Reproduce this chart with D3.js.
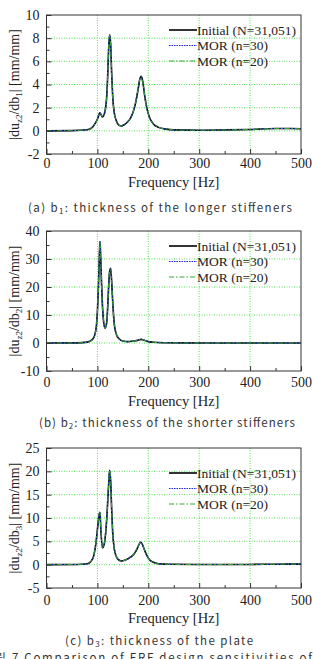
<!DOCTYPE html>
<html><head><meta charset="utf-8">
<script src="https://cdn.jsdelivr.net/npm/d3@7"></script>
<style>
html,body{margin:0;padding:0;background:#fff;}
svg{display:block;}
</style></head>
<body>
<svg id="c" width="313" height="659"></svg>
<script>
// ---------- data ----------
const seriesNames = ["Initial (N=31,051)", "MOR (n=30)", "MOR (n=20)"];
const xTicks = [0, 100, 200, 300, 400, 500];

const freqA = [0,50,80,90,95,100,105,110,115,118,120,122,124,126,128,130,133,137,142,147,152,160,165,170,175,180,183,186,188,190,193,197,202,210,220,235,250,300,350,400,450,480,500];
const initialA = [0,0.02,0.1,0.3,0.6,1.0,1.55,1.2,1.7,2.8,4.5,7.0,8.3,7.5,5.0,3.0,1.6,0.9,0.5,0.42,0.5,0.8,1.1,1.6,2.4,3.6,4.4,4.7,4.5,4.0,3.0,2.0,1.2,0.6,0.3,0.15,0.08,0.05,0.08,0.12,0.2,0.2,0.18];
const mor30A = initialA; // reduced models coincide with the initial curve
const mor20A = initialA;
const yTicksA = [-2, 0, 2, 4, 6, 8, 10];

const freqB = [0,60,80,90,95,98,100,102,104,105,106,108,110,112,115,118,120,122,124,126,128,130,133,137,142,150,160,170,180,186,192,200,210,230,300,500];
const initialB = [0,0.05,0.3,1.2,3,6,11,20,32,36.2,33,22,13,8,5.3,7,12,20,25.5,26.7,22,15,7,3.2,1.6,0.7,0.5,0.7,1.0,1.3,1.0,0.5,0.25,0.1,0.02,0.02];
const mor30B = initialB;
const mor20B = initialB;
const yTicksB = [-10, 0, 10, 20, 30, 40];

const freqC = [0,60,80,88,93,97,100,103,105,107,110,113,116,119,122,124,126,128,130,133,137,142,147,155,165,172,178,182,185,188,192,197,203,210,220,240,300,400,450,500];
const initialC = [0,0.03,0.2,0.8,2,4.5,7.5,10.5,11.2,7,3.6,4.2,6.5,11,17,20.2,18,12,7,3.5,1.8,1.0,0.8,1.0,1.6,2.3,3.4,4.4,4.8,4.4,3.3,2.0,1.0,0.5,0.2,0.08,0.03,0.05,0.1,0.12];
const mor30C = initialC;
const mor20C = initialC;
const yTicksC = [-5, 0, 5, 10, 15, 20, 25];

// ---------- layout ----------
const svg = d3.select("#c");
const serif = "'Liberation Serif','Times New Roman',serif";
const gothic = "'Noto Sans CJK KR','Noto Sans',sans-serif";

const panels = [
  {freq: freqA, series: [initialA, mor30A, mor20A], yTicks: yTicksA, sub: "1",
   top: 15, bottom: 154, legTop: 30, tickBase: 168, xlabBase: 187, capBase: 212,
   cap: ["(a) b", "1", ": thickness of the longer stiffeners"], capX: [28, 292]},
  {freq: freqB, series: [initialB, mor30B, mor20B], yTicks: yTicksB, sub: "2",
   top: 231, bottom: 371, legTop: 246, tickBase: 387, xlabBase: 406, capBase: 427,
   cap: ["(b) b", "2", ": thickness of the shorter stiffeners"], capX: [39, 295]},
  {freq: freqC, series: [initialC, mor30C, mor20C], yTicks: yTicksC, sub: "3",
   top: 448, bottom: 588, legTop: 473, tickBase: 605, xlabBase: 623, capBase: 645,
   cap: ["(c) b", "3", ": thickness of the plate"], capX: [65, 253]}
];

const left = 46.5, right = 301;
const styles = [
  {stroke: "#000", width: 1.6, dash: null},
  {stroke: "#2222dd", width: 1, dash: "1.5,1"},
  {stroke: "#33aa33", width: 1, dash: "5,2,1.5,2"}
];

panels.forEach(p => {
  const yMin = p.yTicks[0], yMax = p.yTicks[p.yTicks.length - 1];
  const x = d3.scaleLinear().domain([0, 500]).range([left, right]);
  const y = d3.scaleLinear().domain([yMin, yMax]).range([p.bottom, p.top]);
  const g = svg.append("g");
  const step = p.yTicks[1] - p.yTicks[0];

  // grid
  xTicks.slice(1, -1).forEach(t => {
    g.append("line").attr("x1", x(t)).attr("x2", x(t)).attr("y1", p.top).attr("y2", p.bottom)
      .attr("stroke", "#55e055").attr("stroke-width", 1).attr("stroke-dasharray", "1,1.5");
  });
  p.yTicks.slice(1, -1).forEach(t => {
    g.append("line").attr("x1", left).attr("x2", right).attr("y1", y(t)).attr("y2", y(t))
      .attr("stroke", "#55e055").attr("stroke-width", 1).attr("stroke-dasharray", "1,1.5");
  });

  // curves
  const line = d3.line().x((d, i) => x(p.freq[i])).y(d => y(d)).curve(d3.curveMonotoneX);
  p.series.forEach((s, k) => {
    const st = styles[k];
    g.append("path").attr("d", line(s)).attr("fill", "none")
      .attr("stroke", st.stroke).attr("stroke-width", st.width)
      .attr("stroke-dasharray", st.dash).attr("stroke-linejoin", "round");
  });

  // axes
  const fmt = d => String(d);
  const xAxis = d3.axisBottom(x).tickValues(xTicks).tickSize(-5).tickPadding(8).tickFormat(fmt);
  const xMinor = d3.axisBottom(x).tickValues(d3.range(50, 500, 100)).tickSize(-3).tickFormat("");
  const yAxis = d3.axisLeft(y).tickValues(p.yTicks).tickSize(-5).tickPadding(7).tickFormat(fmt);
  const yMinor = d3.axisLeft(y).tickValues(p.yTicks.slice(0, -1).map(t => t + step / 2)).tickSize(-3).tickFormat("");

  const gx = g.append("g").attr("transform", `translate(0,${p.bottom})`).call(xAxis)
    .attr("font-family", serif).attr("font-size", 14);
  g.append("g").attr("transform", `translate(0,${p.bottom})`).call(xMinor);
  const gy = g.append("g").attr("transform", `translate(${left},0)`).call(yAxis)
    .attr("font-family", serif).attr("font-size", 14);
  g.append("g").attr("transform", `translate(${left},0)`).call(yMinor);
  g.selectAll(".domain").remove();
  g.selectAll(".tick line").attr("stroke", "#333");
  gx.selectAll(".tick text").attr("font-family", serif).attr("font-size", 14).attr("fill", "#222")
    .attr("dy", null).attr("y", p.tickBase - p.bottom);
  gy.selectAll(".tick text").attr("font-family", serif).attr("font-size", 14).attr("fill", "#222");

  // frame
  g.append("rect").attr("x", left).attr("y", p.top).attr("width", right - left).attr("height", p.bottom - p.top)
    .attr("fill", "none").attr("stroke", "#333").attr("stroke-width", 1);

  // axis titles
  g.append("text").attr("x", (left + right) / 2).attr("y", p.xlabBase).attr("text-anchor", "middle")
    .attr("font-family", serif).attr("font-size", 14.5).attr("fill", "#222").text("Frequency [Hz]");

  const yl = g.append("text").attr("transform", `translate(19,${(p.top + p.bottom) / 2}) rotate(-90)`)
    .attr("text-anchor", "middle").attr("font-family", serif).attr("font-size", 14).attr("fill", "#222");
  yl.append("tspan").text("|du");
  yl.append("tspan").attr("font-size", 9).attr("dy", 3).text("z2");
  yl.append("tspan").attr("dy", -3).text("/db");
  yl.append("tspan").attr("font-size", 9).attr("dy", 3).text(p.sub);
  yl.append("tspan").attr("dy", -3).text("| [mm/mm]");

  // legend
  seriesNames.forEach((n, k) => {
    const ly = p.legTop + k * 15.5;
    const st = styles[k];
    g.append("line").attr("x1", 169).attr("x2", 197).attr("y1", ly).attr("y2", ly)
      .attr("stroke", st.stroke).attr("stroke-width", st.width).attr("stroke-dasharray", st.dash);
    g.append("text").attr("x", 197).attr("y", ly + 4.5).attr("font-family", serif).attr("font-size", 13.5)
      .attr("fill", "#222").text(n);
  });

  // caption
  const ct = g.append("text").attr("x", p.capX[0]).attr("y", p.capBase)
    .attr("font-family", gothic).attr("font-size", 11.5).attr("fill", "#333")
    .attr("textLength", p.capX[1] - p.capX[0]).attr("lengthAdjust", "spacing");
  ct.append("tspan").text(p.cap[0]);
  ct.append("tspan").attr("font-size", 8).attr("dy", 2).text(p.cap[1]);
  ct.append("tspan").attr("dy", -2).text(p.cap[2]);
});

// figure caption at the bottom edge (cut off in the reference as well)
svg.append("text").attr("x", -17).attr("y", 662).attr("font-family", gothic).attr("font-size", 11.5)
  .attr("fill", "#333").attr("textLength", 329).attr("lengthAdjust", "spacing")
  .text("그림 7 Comparison of FRF design sensitivities of");
</script>
</body></html>
